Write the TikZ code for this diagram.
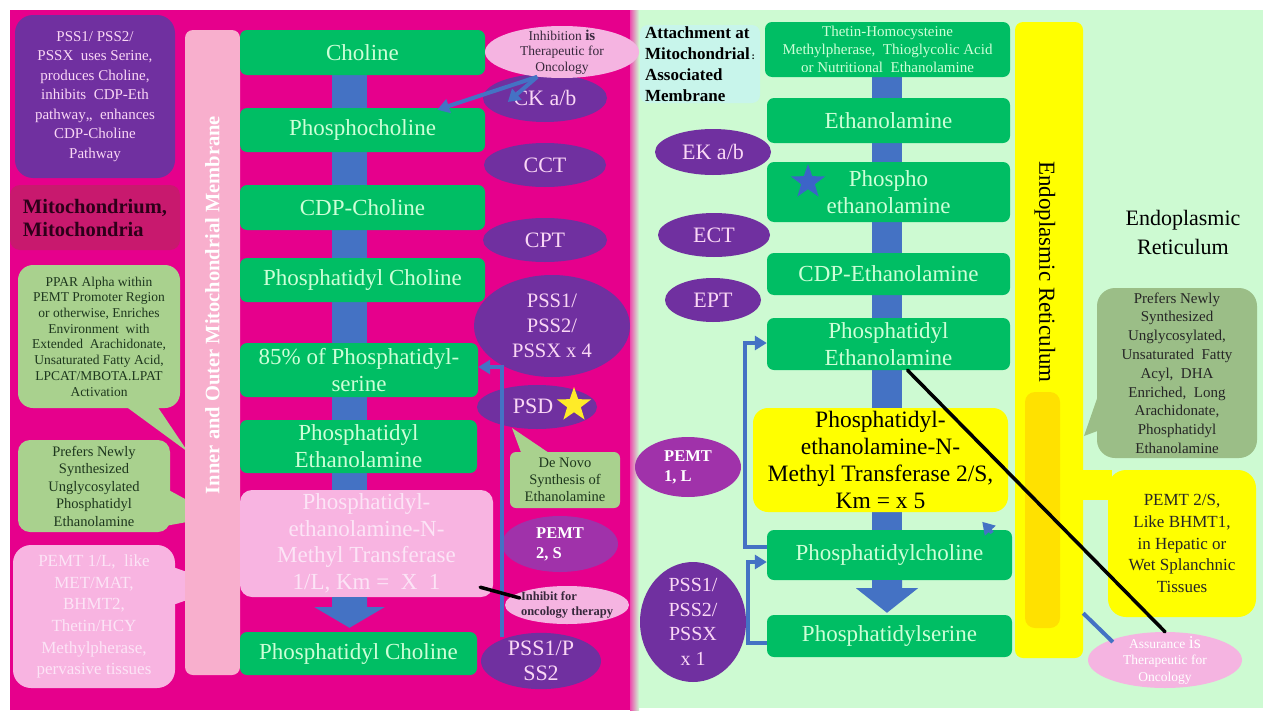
\documentclass[tikz,border=0pt]{standalone}
\usepackage{fontspec}
\setmainfont{Liberation Serif}
\usetikzlibrary{arrows.meta,calc,shapes.geometric}
\pgfdeclarelayer{bgzero}
\pgfdeclarelayer{bgone}
\pgfsetlayers{bgzero,bgone,main}
\newcommand\myfs[2]{\fontsize{#1}{#2}\selectfont}
\definecolor{mag}{RGB}{230,0,140}
\definecolor{mitob}{RGB}{200,25,110}
\definecolor{purp}{RGB}{112,48,160}
\definecolor{grn}{RGB}{0,190,100}
\definecolor{grntxt}{RGB}{205,255,215}
\definecolor{memb}{RGB}{248,175,205}
\definecolor{pemtpink}{RGB}{248,180,225}
\definecolor{lgreen}{RGB}{205,250,210}
\definecolor{blu}{RGB}{68,114,196}
\definecolor{callg}{RGB}{169,209,142}
\definecolor{callgb}{RGB}{155,190,135}
\definecolor{yel}{RGB}{255,255,0}
\definecolor{yelb}{RGB}{255,225,0}
\definecolor{pemtell}{RGB}{160,50,170}
\definecolor{pinkell}{RGB}{245,180,225}
\definecolor{cyanbox}{RGB}{200,245,235}
\definecolor{ptxt}{RGB}{250,215,245}
\definecolor{pemtxt}{RGB}{252,228,246}
\definecolor{mitotxt}{RGB}{45,0,25}
\definecolor{darkg}{RGB}{30,55,30}
\definecolor{inhtxt}{RGB}{55,40,60}
\definecolor{bstar}{RGB}{60,100,200}
\definecolor{ystar}{RGB}{255,235,40}
\tikzset{
 gbox/.style={fill=grn, rounded corners=7pt, inner sep=0pt, text=grntxt, align=center, font=\myfs{23}{27}},
 pell/.style={ellipse, fill=purp, inner sep=0pt, text=ptxt, align=center, font=\myfs{22}{25}},
 mell/.style={ellipse, fill=pemtell, inner sep=0pt, text=white, align=left, font=\bfseries\myfs{16.5}{20}},
 kell/.style={ellipse, fill=pinkell, inner sep=0pt, align=center},
 callout/.style={rounded corners=15pt, inner sep=0pt, align=center},
 bline/.style={draw=blu, line width=4pt, -{Triangle[width=14pt,length=12pt]}},
 bplain/.style={draw=blu, line width=4pt},
 kline/.style={draw=black, line width=3.5pt, line cap=round},
 bluebar/.style={draw=blu, line width=35pt},
}
\begin{document}
\begin{tikzpicture}[x=1pt,y=-1pt]
\useasboundingbox (0,0) rectangle (1280,720);
\begin{pgfonlayer}{bgzero}
\fill[white] (0,0) rectangle (1280,720);
\fill[mag] (10,10) rectangle (633,710);
\fill[lgreen] (633,10) rectangle (1263,708);
\shade[left color=mag!70!white, right color=lgreen] (630,10) rectangle (639,710);
\end{pgfonlayer}

% ---------- left panel callouts ----------
\node[fill=purp, rounded corners=18pt, minimum width=160pt, minimum height=163pt, inner sep=0pt, align=center, text=ptxt, font=\myfs{15}{19.5}] (pssinfo) at (95,96.5)
 {PSS1/ PSS2/\\PSSX~ uses Serine,\\produces Choline,\\inhibits~ CDP-Eth\\pathway,,~ enhances\\CDP-Choline\\Pathway};
\node[fill=mitob, rounded corners=10pt, minimum width=170pt, minimum height=65pt, inner sep=0pt, align=left, text=mitotxt, font=\bfseries\myfs{20.5}{23}] (mito) at (95,217.5)
 {Mitochondrium,\\Mitochondria};
\fill[callg] (117,400) -- (153,400) -- (188,452) -- cycle;
\node[callout, fill=callg, minimum width=162pt, minimum height=143pt, text=darkg, font=\myfs{13.5}{15.7}] (ppar) at (99,336.5)
 {PPAR Alpha within\\PEMT Promoter Region\\or otherwise, Enriches\\Environment~ with\\Extended~ Arachidonate,\\Unsaturated Fatty Acid,\\LPCAT/MBOTA.LPAT\\Activation};
\fill[callg] (165,488) -- (187,500) -- (187,522) -- (165,526) -- cycle;
\node[callout, rounded corners=12pt, fill=callg, minimum width=152pt, minimum height=92pt, text=darkg, font=\myfs{14.5}{17.5}] (prefl) at (94,486)
 {Prefers Newly\\Synthesized\\Unglycosylated\\Phosphatidyl\\Ethanolamine};
\fill[pemtpink] (170,566) -- (187,572) -- (187,600) -- (170,606) -- cycle;
\node[callout, rounded corners=18pt, fill=pemtpink, minimum width=162pt, minimum height=143pt, text=pemtxt, font=\myfs{17}{21.7}] (pemtlb) at (94,616.5)
 {PEMT 1/L,~ like\\MET/MAT,\\BHMT2,\\Thetin/HCY\\Methylpherase,\\pervasive tissues};
\node[fill=memb, rounded corners=8pt, minimum width=55pt, minimum height=645pt, inner sep=0pt] (membr) at (212.5,352.5) {};
\node[rotate=90, text=white, font=\bfseries\myfs{20.5}{22}] (membrtxt) at (212.5,305) {Inner and Outer Mitochondrial Membrane};

% ---------- left green column ----------
\node[gbox, minimum width=245pt, minimum height=45pt] (chol) at (362.5,52.5) {Choline};
\node[gbox, minimum width=245pt, minimum height=44pt] (pchol) at (362.5,130) {Phosphocholine};
\node[gbox, minimum width=245pt, minimum height=45pt] (cdpc) at (362.5,207.5) {CDP-Choline};
\node[gbox, minimum width=245pt, minimum height=44pt] (ptc) at (362.5,280) {Phosphatidyl Choline};
\node[gbox, minimum width=238pt, minimum height=54pt] (ps85) at (359,370) {85\% of Phosphatidyl-\\serine};
\node[gbox, minimum width=237pt, minimum height=53pt] (lpe) at (358.5,446.5) {Phosphatidyl\\Ethanolamine};
\node[fill=pemtpink, rounded corners=12pt, minimum width=253pt, minimum height=107pt, inner sep=0pt, align=center, text=pemtxt, font=\myfs{23}{26.5}] (pemt1) at (366.5,543.5)
 {Phosphatidyl-\\ethanolamine-N-\\Methyl Transferase\\1/L, Km =~ X~ 1};
\node[gbox, minimum width=237pt, minimum height=43pt] (pcb) at (358.5,653.5) {Phosphatidyl Choline};

% ---------- left ellipses ----------
\node[pell, minimum width=124pt, minimum height=48pt] (ck) at (545,98) {CK a/b};
\node[kell, minimum width=154pt, minimum height=52pt, inner ysep=-5pt, text=inhtxt, font=\myfs{13.5}{15.5}] (inh) at (562,52)
 {Inhibition {\bfseries\myfs{15}{15}is}\\Therapeutic for\\Oncology};
\node[pell, minimum width=122pt, minimum height=44pt] (cct) at (545,165) {CCT};
\node[pell, minimum width=124pt, minimum height=44pt] (cpt) at (545,240) {CPT};
\node[pell, minimum width=156pt, minimum height=102pt, font=\myfs{20.5}{25}] (pss4) at (552,326) {PSS1/\\PSS2/\\PSSX x 4};
\node[pell, minimum width=120pt, minimum height=44pt] (psd) at (537,407) {};
\node[text=ptxt, font=\myfs{22}{25}, inner sep=0pt] (psdtxt) at (533,406) {PSD};
\node[star, star points=5, star point ratio=2.5, fill=ystar, minimum size=36pt, inner sep=0pt] (ystar1) at (574,405) {};
\fill[callg] (522,455) -- (552,455) -- (512,428) -- cycle;
\node[callout, rounded corners=6pt, fill=callg, minimum width=110pt, minimum height=56pt, text=darkg, font=\myfs{14.5}{17}] (denovo) at (565,480)
 {De Novo\\Synthesis of\\Ethanolamine};
\node[mell, minimum width=116pt, minimum height=56pt] (pemt2) at (560,544) {PEMT\\2, S};
\node[kell, minimum width=124pt, minimum height=38pt, inner sep=-3pt, align=left, text=inhtxt, font=\bfseries\myfs{12.5}{14.5}] (inh2) at (567,605)
 {Inhibit for\\oncology therapy};
\node[pell, minimum width=120pt, minimum height=54pt] (ps12) at (541,661) {PSS1/P\\SS2};

% ---------- right panel ----------
\node[fill=cyanbox, rounded corners=8pt, minimum width=120pt, minimum height=78pt, inner sep=0pt, align=left, font=\bfseries\myfs{17}{21}] (attach) at (700,64)
 {Attachment at\\Mitochondrial{\myfs{10}{10}\,:}\\Associated\\Membrane};
\node[gbox, minimum width=245pt, minimum height=55pt, font=\myfs{15}{18}] (thetin) at (887.5,49.5)
 {Thetin-Homocysteine\\Methylpherase,~ Thioglycolic Acid\\or Nutritional~ Ethanolamine};
\node[gbox, minimum width=243pt, minimum height=45pt] (eth) at (888.5,120.5) {Ethanolamine};
\node[gbox, minimum width=243pt, minimum height=60pt] (peth) at (888.5,192) {Phospho\\ethanolamine};
\node[star, star points=5, star point ratio=2.5, fill=bstar, minimum size=36pt, inner sep=0pt] (bstar1) at (808,182) {};
\node[gbox, minimum width=243pt, minimum height=42pt] (cdpe) at (888.5,274) {CDP-Ethanolamine};
\node[gbox, minimum width=243pt, minimum height=52pt] (rpe) at (888.5,344) {Phosphatidyl\\Ethanolamine};
\node[fill=yel, rounded corners=15pt, minimum width=255pt, minimum height=104pt, inner sep=0pt, align=center, font=\myfs{23.5}{27}] (pemt2s) at (880.5,460)
 {Phosphatidyl-\\ethanolamine-N-\\Methyl Transferase 2/S,\\Km = x 5};
\node[gbox, minimum width=245pt, minimum height=50pt] (rpc) at (889.5,555) {Phosphatidylcholine};
\node[gbox, minimum width=245pt, minimum height=42pt] (rps) at (889.5,636) {Phosphatidylserine};

\node[pell, minimum width=116pt, minimum height=46pt] (ek) at (713,152) {EK a/b};
\node[pell, minimum width=112pt, minimum height=44pt] (ect) at (714,235) {ECT};
\node[pell, minimum width=96pt, minimum height=44pt] (ept) at (713,300) {EPT};
\node[mell, minimum width=106pt, minimum height=60pt] (pemtl) at (688,467) {PEMT\\1, L};
\node[pell, minimum width=106pt, minimum height=120pt, inner ysep=-4pt, font=\myfs{20}{24.5}] (pss1) at (693,622) {PSS1/\\PSS2/\\PSSX\\x 1};

\node[fill=yel, rounded corners=8pt, minimum width=68pt, minimum height=636pt, inner sep=0pt] (erbar) at (1049,340) {};
\node[fill=yelb, rounded corners=10pt, minimum width=35pt, minimum height=236pt, inner sep=0pt] (erinner) at (1042.5,510) {};
\node[rotate=-90, font=\myfs{23}{25}] (erbartxt) at (1045,272) {Endoplasmic Reticulum};
\node[font=\myfs{22}{29}, align=center] (erlab) at (1183,232) {Endoplasmic\\Reticulum};
\fill[callgb] (1100,390) -- (1100,430) -- (1084,436) -- cycle;
\node[callout, rounded corners=18pt, fill=callgb, minimum width=160pt, minimum height=170pt, text=black!85, font=\myfs{15}{18.8}] (ercall) at (1177,373)
 {Prefers Newly\\Synthesized\\Unglycosylated,\\Unsaturated~ Fatty\\Acyl,~ DHA\\Enriched,~ Long\\Arachidonate,\\Phosphatidyl\\Ethanolamine};
\fill[yel] (1080,470) -- (1112,470) -- (1112,500) -- (1080,500) -- cycle;
\node[callout, rounded corners=18pt, fill=yel, minimum width=148pt, minimum height=147pt, text=black!85, font=\myfs{17}{21.7}] (yelcall) at (1182,543.5)
 {PEMT 2/S,\\Like BHMT1,\\in Hepatic or\\Wet Splanchnic\\Tissues};
\node[kell, minimum width=154pt, minimum height=56pt, inner ysep=-5pt, text=white, font=\myfs{13.5}{16.5}] (asr) at (1165,660)
 {Assurance {\myfs{18}{16}is}\\Therapeutic for\\Oncology};

% ---------- blue bars behind the columns ----------
\coordinate (lbar) at (349.5,0);
\coordinate (rbar) at (887,0);
\begin{pgfonlayer}{bgone}
\draw[bluebar] (chol.center -| lbar) -- (pemt1.center -| lbar);
\draw[bluebar, line width=30pt] (thetin.center -| rbar) -- (rpc.center -| rbar);
\end{pgfonlayer}
% big down arrows
\coordinate (la) at (pemt1.south -| lbar);
\coordinate (lb) at (pcb.north -| lbar);
\fill[blu] ($(la)+(-17.5,0)$) -- ($(la)+(17.5,0)$) -- ($(la)+(17.5,10)$) -- ($(la)+(35,10)$) -- ($(lb)+(0,-4)$) -- ($(la)+(-35,10)$) -- ($(la)+(-17.5,10)$) -- cycle;
\coordinate (ra) at (rpc.south -| rbar);
\coordinate (rb) at (rps.north -| rbar);
\fill[blu] ($(ra)+(-15,0)$) -- ($(ra)+(15,0)$) -- ($(ra)+(15,8)$) -- ($(ra)+(31,8)$) -- ($(rb)+(0,-2)$) -- ($(ra)+(-31,8)$) -- ($(ra)+(-15,8)$) -- cycle;

% ---------- connectors ----------
\draw[bline] (inh.225) -- ($(pchol.north east)+(-48,2)$);
\draw[bline] (inh.225) -- ($(ck.west)+(25,4)$);
\coordinate (lvb) at (502,637);
\draw[bline] (lvb) |- ($(ps85.east)+(0,-3)$);
\draw[kline] ($(inh2.west)+(15,-7)$) -- ($(pemt1.south east)+(-13,-10)$);
\draw[bline] ($(rpc.west)+(0,-8)$) -- ++(-22,0) |- ($(rpe.west)+(0,-1)$);
\draw[bline] ($(rps.west)+(0,7)$) -- ++(-19,0) |- ($(rpc.west)+(0,7)$);
\draw[bline] ($(rpc.north east)+(-20,3)$) -- ($(rpc.north east)+(-30,-8)$);
\draw[kline] ($(rpe.south)+(19,0)$) -- (asr.north);
\draw[bplain] ($(asr.west)+(25,-18)$) -- ($(erbar.south east)+(0,-45)$);
\end{tikzpicture}
\end{document}
